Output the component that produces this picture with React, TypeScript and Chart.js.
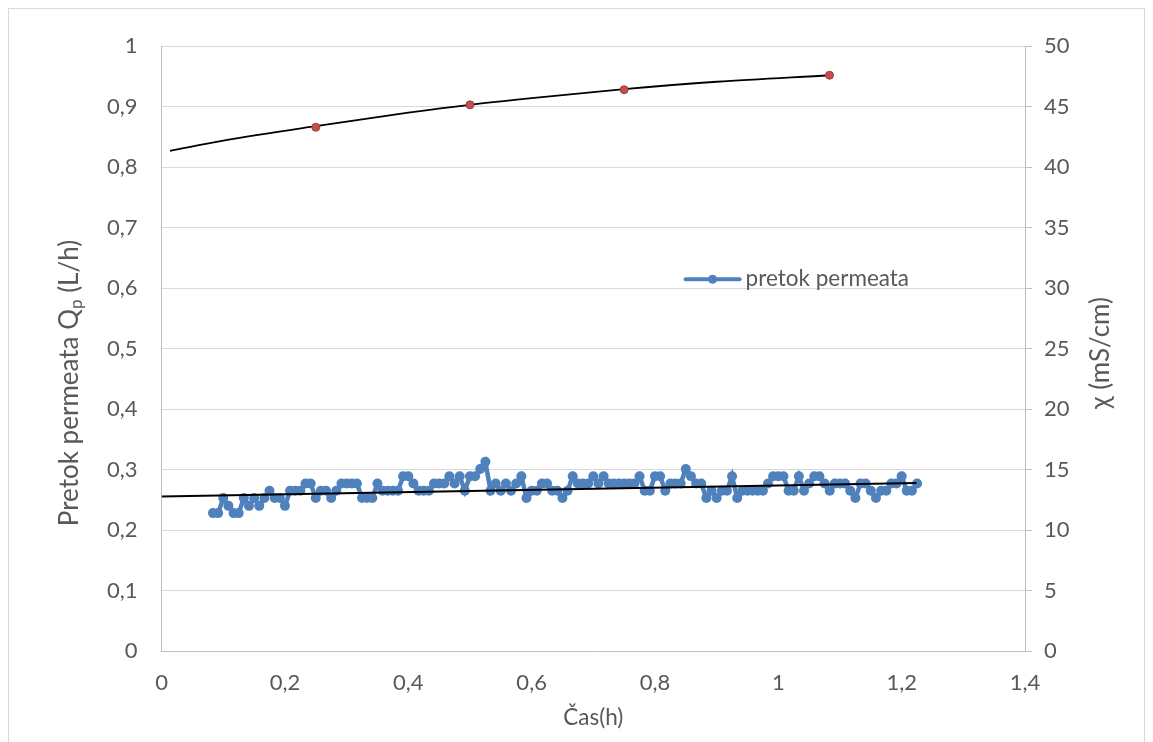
import React, { useEffect, useRef } from "react";
import { Chart, registerables } from "chart.js";

Chart.register(...registerables);

// time of each flow reading, in minutes
const flowMinutes: number[] = [
  5, 5.5, 6, 6.5, 7, 7.5, 8, 8.5, 9, 9.5,
  10, 10.5, 11, 11.5, 12, 12.5, 13, 13.5, 14, 14.5,
  15, 15.5, 16, 16.5, 17, 17.5, 18, 18.5, 19, 19.5,
  20, 20.5, 21, 21.5, 22, 22.5, 23, 23.5, 24, 24.5,
  25, 25.5, 26, 26.5, 27, 27.5, 28, 28.5, 29, 29.5,
  30, 30.5, 31, 31.5, 32, 32.5, 33, 33.5, 34, 34.5,
  35, 35.5, 36, 36.5, 37, 37.5, 38, 38.5, 39, 39.5,
  40, 40.5, 41, 41.5, 42, 42.5, 43, 43.5, 44, 44.5,
  45, 45.5, 46, 46.5, 47, 47.5, 48, 48.5, 49, 49.5,
  50, 50.5, 51, 51.5, 52, 52.5, 53, 53.5, 54, 54.5,
  55, 55.5, 56, 56.5, 57, 57.5, 58, 58.5, 59, 59.5,
  60, 60.5, 61, 61.5, 62, 62.5, 63, 63.5, 64, 64.5,
  65, 65.5, 66, 66.5, 67, 67.5, 68, 68.5, 69, 69.5,
  70, 70.5, 71, 71.5, 72, 72.5, 73, 73.5,
];

// pretok permeata (L/h)
const flowValues: number[] = [
  0.228, 0.228, 0.253, 0.240, 0.228, 0.228, 0.253, 0.240, 0.253, 0.240,
  0.253, 0.265, 0.253, 0.253, 0.240, 0.265, 0.265, 0.265, 0.277, 0.277,
  0.253, 0.265, 0.265, 0.253, 0.265, 0.277, 0.277, 0.277, 0.277, 0.253,
  0.253, 0.253, 0.277, 0.265, 0.265, 0.265, 0.265, 0.289, 0.289, 0.277,
  0.265, 0.265, 0.265, 0.277, 0.277, 0.277, 0.289, 0.277, 0.289, 0.265,
  0.289, 0.289, 0.301, 0.313, 0.265, 0.277, 0.265, 0.277, 0.265, 0.277,
  0.289, 0.253, 0.265, 0.265, 0.277, 0.277, 0.265, 0.265, 0.253, 0.265,
  0.289, 0.277, 0.277, 0.277, 0.289, 0.277, 0.289, 0.277, 0.277, 0.277,
  0.277, 0.277, 0.277, 0.289, 0.265, 0.265, 0.289, 0.289, 0.265, 0.277,
  0.277, 0.277, 0.301, 0.289, 0.277, 0.277, 0.253, 0.265, 0.253, 0.265,
  0.265, 0.289, 0.253, 0.265, 0.265, 0.265, 0.265, 0.265, 0.277, 0.289,
  0.289, 0.289, 0.265, 0.265, 0.289, 0.265, 0.277, 0.289, 0.289, 0.277,
  0.265, 0.277, 0.277, 0.277, 0.265, 0.253, 0.277, 0.277, 0.265, 0.253,
  0.265, 0.265, 0.277, 0.277, 0.289, 0.265, 0.265, 0.277,
];

// linear trendline of the flow
const flowTrendX: number[] = [0, 1.224];
const flowTrendY: number[] = [0.2553, 0.2778];

// conductivity χ (mS/cm)
const condX: number[] = [0.25, 0.5, 0.75, 1.083];
const condY: number[] = [43.3, 45.15, 46.4, 47.6];

// conductivity trendline
const condTrendX: number[] = [0.0136, 0.1, 0.25, 0.4, 0.5, 0.6, 0.75, 0.9, 1.083];
const condTrendY: number[] = [41.35, 42.2, 43.4, 44.5, 45.15, 45.7, 46.45, 47.06, 47.6];

const xTicks = { min: 0, max: 1.4, step: 0.2 };
const yTicks = { min: 0, max: 1, step: 0.1 };
const y2Ticks = { min: 0, max: 50, step: 5 };

const legendLabel = "pretok permeata";
const xTitle = "Čas(h)";
const yTitleMain = "Pretok permeata Q";
const yTitleSub = "p";
const yTitleEnd = " (L/h)";
const y2Title = "χ (mS/cm)";

const FONT = "Lato";
const TEXT = "#595959";
const BLUE = "#4F81BD";
const RED = "#C0504D";

const comma = (v: number) => String(Number(v.toFixed(1))).replace(".", ",");

export default function App() {
  const ref = useRef<HTMLCanvasElement | null>(null);

  useEffect(() => {
    let chart: Chart | null = null;
    let cancelled = false;

    const overlay = {
      id: "overlay",
      afterDraw(c: any) {
        const ctx = c.ctx as CanvasRenderingContext2D;
        const a = c.chartArea;
        ctx.save();
        // legend
        const lx = a.left + 524;
        const ly = a.top + 233;
        ctx.strokeStyle = BLUE;
        ctx.lineWidth = 4;
        ctx.lineCap = "round";
        ctx.beginPath();
        ctx.moveTo(lx, ly);
        ctx.lineTo(lx + 54, ly);
        ctx.stroke();
        ctx.fillStyle = BLUE;
        ctx.beginPath();
        ctx.arc(lx + 27, ly, 4.5, 0, Math.PI * 2);
        ctx.fill();
        ctx.fillStyle = TEXT;
        ctx.font = `22.5px ${FONT}`;
        ctx.textAlign = "left";
        ctx.textBaseline = "middle";
        ctx.fillText(legendLabel, lx + 60, ly);

        // x title
        ctx.textAlign = "center";
        ctx.fillText(xTitle, (a.left + a.right) / 2, 709);

        // left title with subscript
        ctx.save();
        ctx.translate(61, 374);
        ctx.rotate(-Math.PI / 2);
        ctx.font = `26px ${FONT}`;
        const w1 = ctx.measureText(yTitleMain).width;
        const w3 = ctx.measureText(yTitleEnd).width;
        ctx.font = `17px ${FONT}`;
        const w2 = ctx.measureText(yTitleSub).width;
        let sx = -(w1 + w2 + w3) / 2;
        ctx.textAlign = "left";
        ctx.font = `26px ${FONT}`;
        ctx.fillText(yTitleMain, sx, 0);
        sx += w1;
        ctx.font = `17px ${FONT}`;
        ctx.fillText(yTitleSub, sx, 7);
        sx += w2;
        ctx.font = `26px ${FONT}`;
        ctx.fillText(yTitleEnd, sx, 0);
        ctx.restore();

        // right title
        ctx.save();
        ctx.translate(1092, 344);
        ctx.rotate(-Math.PI / 2);
        ctx.textAlign = "center";
        ctx.font = `26px ${FONT}`;
        ctx.fillText(y2Title, 0, 0);
        ctx.restore();
        ctx.restore();
      },
    };

    const make = () => {
      if (cancelled || !ref.current) return;
      chart = new Chart(ref.current, {
        type: "scatter",
        data: {
          datasets: [
            {
              label: "χ",
              data: condX.map((x, i) => ({ x, y: condY[i] })),
              yAxisID: "y2",
              showLine: false,
              pointRadius: 4,
              pointBackgroundColor: RED,
              pointBorderColor: "#A33C39",
              pointBorderWidth: 1,
              order: -1,
            },
            {
              label: "χ trend",
              data: condTrendX.map((x, i) => ({ x, y: condTrendY[i] })),
              yAxisID: "y2",
              showLine: true,
              cubicInterpolationMode: "monotone",
              borderColor: "#000000",
              borderWidth: 1.8,
              pointRadius: 0,
              order: 0,
            },
            {
              label: "trend",
              data: flowTrendX.map((x, i) => ({ x, y: flowTrendY[i] })),
              yAxisID: "y",
              showLine: true,
              borderColor: "#000000",
              borderWidth: 2,
              pointRadius: 0,
              order: 0,
            },
            {
              label: legendLabel,
              data: flowMinutes.map((m, i) => ({ x: m / 60, y: flowValues[i] })),
              yAxisID: "y",
              showLine: true,
              borderColor: BLUE,
              borderWidth: 4.5,
              pointRadius: 5,
              pointBackgroundColor: BLUE,
              pointBorderColor: BLUE,
              pointBorderWidth: 0,
              order: 2,
            },
          ],
        } as any,
        options: {
          animation: false,
          responsive: false,
          devicePixelRatio: 1,
          layout: { padding: { top: 36, left: 0, right: 0, bottom: 0 } },
          plugins: {
            legend: { display: false },
            tooltip: { enabled: false },
          },
          scales: {
            x: {
              type: "linear",
              min: xTicks.min,
              max: xTicks.max,
              afterFit: (s: any) => {
                s.height = 91;
              },
              ticks: {
                stepSize: xTicks.step,
                color: TEXT,
                font: { family: FONT, size: 22 },
                padding: 19,
                callback: (v: any) => comma(Number(v)),
              },
              grid: { display: false, drawTicks: false },
              border: { display: true, color: "#bfbfbf", width: 1 },
            },
            y: {
              type: "linear",
              position: "left",
              min: yTicks.min,
              max: yTicks.max,
              afterFit: (s: any) => {
                s.width = 152.6;
              },
              ticks: {
                stepSize: yTicks.step,
                color: TEXT,
                font: { family: FONT, size: 22 },
                padding: 24,
                callback: (v: any) => comma(Number(v)),
              },
              grid: { color: "#d9d9d9", drawTicks: false },
              border: { display: true, color: "#bfbfbf", width: 1 },
            },
            y2: {
              type: "linear",
              position: "right",
              min: y2Ticks.min,
              max: y2Ticks.max,
              afterFit: (s: any) => {
                s.width = 119;
              },
              ticks: {
                stepSize: y2Ticks.step,
                color: TEXT,
                font: { family: FONT, size: 22 },
                padding: 12,
              },
              grid: {
                display: true,
                drawOnChartArea: false,
                drawTicks: true,
                tickLength: 7,
                color: "#bfbfbf",
              },
              border: { display: true, color: "#bfbfbf", width: 1 },
            },
          },
        } as any,
        plugins: [overlay],
      });
    };

    const fonts: any = (document as any).fonts;
    if (fonts && fonts.load) {
      fonts.load(`20px ${FONT}`).then(make, make);
    } else {
      make();
    }

    return () => {
      cancelled = true;
      if (chart) chart.destroy();
    };
  }, []);

  return (
    <div
      style={{
        width: 1137,
        height: 734,
        boxSizing: "border-box",
        borderTop: "1px solid #d9d9d9",
        borderLeft: "1px solid #d9d9d9",
        borderRight: "1px solid #d9d9d9",
        background: "#ffffff",
      }}
    >
      <canvas ref={ref} width={1135} height={733} style={{ display: "block" }} />
    </div>
  );
}
